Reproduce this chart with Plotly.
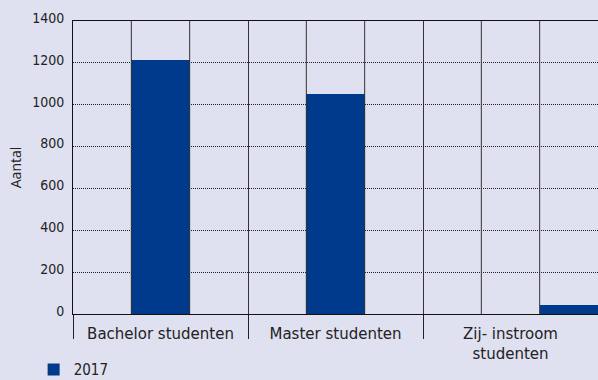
import plotly.graph_objects as go

categories = ["Bachelor studenten", "Master studenten", "Zij- instroom<br>studenten"]
slot_a = [None, None, None]
values_2017 = [1215, 1053, None]
slot_c = [None, None, 45]
y_ticks = [0, 200, 400, 600, 800, 1000, 1200, 1400]
series_name = "2017"

BG = "#dfe0f0"
BAR = "#003a8c"

fig = go.Figure()
fig.add_trace(go.Bar(x=categories, y=slot_a, name="a", showlegend=False,
                     marker=dict(color=BAR, line=dict(width=0))))
fig.add_trace(go.Bar(x=categories, y=values_2017, name=series_name,
                     marker=dict(color=BAR, line=dict(width=0))))
fig.add_trace(go.Bar(x=categories, y=slot_c, name="c", showlegend=False,
                     marker=dict(color=BAR, line=dict(width=0))))

shapes = []
for i in range(len(categories)):
    for off in (-1/6, 1/6):
        shapes.append(dict(type="line", xref="x", yref="y", x0=i + off, x1=i + off,
                           y0=0, y1=1400, layer="above",
                           line=dict(color="#333", width=1)))

fig.update_layout(
    width=598, height=380,
    margin=dict(l=73, r=0, t=21, b=66, autoexpand=False),
    paper_bgcolor=BG, plot_bgcolor=BG,
    barmode="group", bargap=0, bargroupgap=0,
    font=dict(family="DejaVu Sans", color="#222"),
    shapes=shapes,
    legend=dict(orientation="h", x=-0.075, xanchor="left", y=-0.19, yanchor="middle",
                font=dict(family="DejaVu Sans Condensed", size=15, color="#222"),
                bgcolor="rgba(0,0,0,0)", borderwidth=0, tracegroupgap=0),
    xaxis=dict(type="category", tickson="boundaries", ticks="outside", ticklen=24,
               tickcolor="#222", tickwidth=1, showgrid=True, gridcolor="#333", gridwidth=1,
               showline=True, mirror=True, linecolor="#111", linewidth=1,
               tickfont=dict(family="DejaVu Sans", size=15, color="#222"),
               ticklabelstandoff=6, range=[-0.5, 2.5], layer="above traces",
               automargin=False),
    yaxis=dict(range=[0, 1400], tickvals=y_ticks, showgrid=True, gridcolor="#222",
               griddash="1px,1px", gridwidth=1, showline=True, linecolor="#111", linewidth=1,
               zeroline=False, ticks="", ticklabelstandoff=5, ticklabelshift=-3,
               layer="above traces", automargin=False,
               tickfont=dict(family="DejaVu Sans Condensed", size=14, color="#222"),
               title=dict(text="Aantal", font=dict(family="Open Sans", size=14, color="#222"),
                          standoff=7)),
)

fig.write_html("out.html")
